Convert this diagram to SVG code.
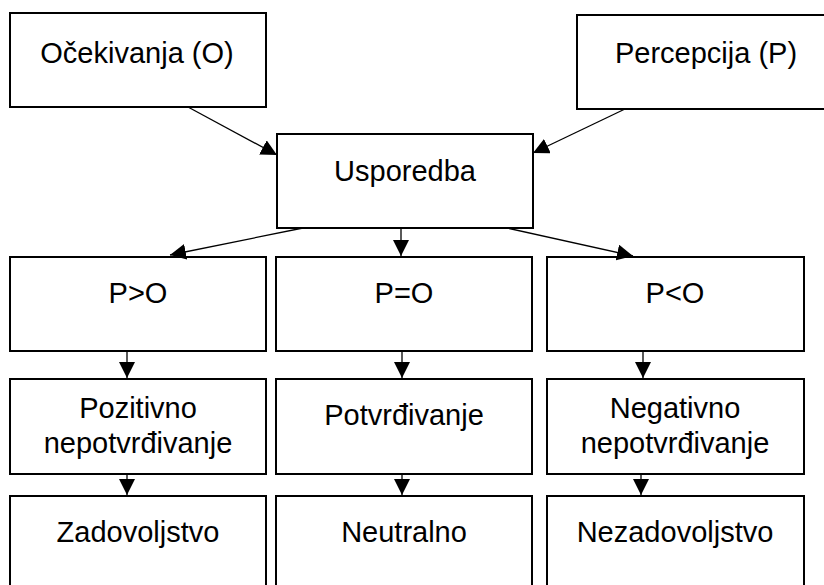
<svg xmlns="http://www.w3.org/2000/svg" width="824" height="585" viewBox="0 0 824 585">
<style>
.box{fill:#fff;stroke:#000;stroke-width:2}
.t{font-family:"Liberation Sans",Arial,sans-serif;font-size:29px;fill:#000;text-anchor:middle}
.c{stroke:#000;stroke-width:1.3;fill:none;marker-end:url(#ah)}
</style>
<defs>
<marker id="ah" markerUnits="userSpaceOnUse" markerWidth="17" markerHeight="17" refX="16" refY="8" orient="auto">
<path d="M0,0 L16,8 L0,16 z" fill="#000"/>
</marker>
</defs>
<rect width="824" height="585" fill="#fff"/>
<g id="ocekivanja"><rect class="box" x="10" y="13" width="256" height="94"/><text class="t" x="137" y="63">Očekivanja (O)</text></g>
<g id="percepcija"><rect class="box" x="577" y="15" width="258" height="94"/><text class="t" x="706" y="63">Percepcija (P)</text></g>
<g id="usporedba"><rect class="box" x="277" y="134" width="256" height="94"/><text class="t" x="405" y="181">Usporedba</text></g>
<g id="pvo"><rect class="box" x="10" y="257" width="256" height="94"/><text class="t" x="138" y="303">P&gt;O</text></g>
<g id="pjo"><rect class="box" x="276" y="257" width="256" height="94"/><text class="t" x="404" y="303">P=O</text></g>
<g id="pmo"><rect class="box" x="547" y="257" width="257" height="94"/><text class="t" x="675" y="303">P&lt;O</text></g>
<g id="pozitivno"><rect class="box" x="10" y="379" width="256" height="95"/><text class="t" x="138" y="418">Pozitivno</text><text class="t" x="138" y="453">nepotvrđivanje</text></g>
<g id="potvrdivanje"><rect class="box" x="276" y="379" width="256" height="95"/><text class="t" x="404" y="425">Potvrđivanje</text></g>
<g id="negativno"><rect class="box" x="547" y="379" width="257" height="95"/><text class="t" x="675" y="418">Negativno</text><text class="t" x="675" y="453">nepotvrđivanje</text></g>
<g id="zadovoljstvo"><rect class="box" x="10" y="496" width="256" height="100"/><text class="t" x="138" y="542">Zadovoljstvo</text></g>
<g id="neutralno"><rect class="box" x="276" y="496" width="256" height="100"/><text class="t" x="404" y="542">Neutralno</text></g>
<g id="nezadovoljstvo"><rect class="box" x="547" y="496" width="257" height="100"/><text class="t" x="675" y="542">Nezadovoljstvo</text></g>
<g id="connectors">
<line class="c" x1="188" y1="107" x2="277" y2="155"/>
<line class="c" x1="625" y1="109" x2="533" y2="153"/>
<line class="c" x1="303" y1="228" x2="170" y2="255"/>
<line class="c" x1="401" y1="228" x2="401" y2="256"/>
<line class="c" x1="507" y1="228" x2="633" y2="256"/>
<line class="c" x1="127" y1="351" x2="127" y2="378"/>
<line class="c" x1="402" y1="351" x2="402" y2="378"/>
<line class="c" x1="643" y1="351" x2="643" y2="378"/>
<line class="c" x1="127" y1="474" x2="127" y2="495"/>
<line class="c" x1="402" y1="474" x2="402" y2="495"/>
<line class="c" x1="641" y1="474" x2="641" y2="495"/>
</g>
</svg>
